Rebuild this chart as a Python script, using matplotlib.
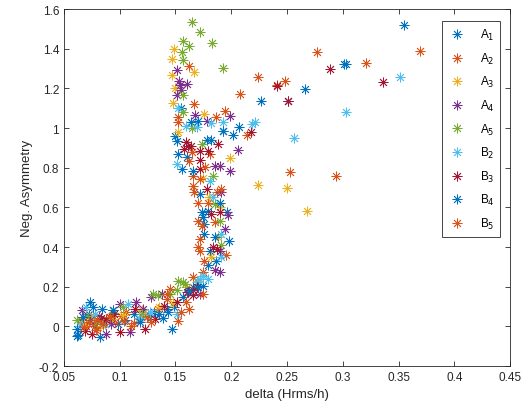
import numpy as np
from matplotlib import pyplot as plt

plt.rcParams['font.family'] = ['Liberation Sans', 'DejaVu Sans']

names = ['A$_1$', 'A$_2$', 'A$_3$', 'A$_4$', 'A$_5$', 'B$_2$', 'B$_3$', 'B$_4$', 'B$_5$']
colors = ['#0072BD', '#D95319', '#EDB120', '#7E2F8E', '#77AC30',
          '#4DBEEE', '#A2142F', '#0072BD', '#D95319']

## A1
A1_x = [0.062, 0.066, 0.072, 0.078, 0.084, 0.082, 0.090, 0.094, 0.105, 0.113, 0.125, 0.139,
        0.142, 0.147, 0.149, 0.157, 0.166, 0.175, 0.179, 0.181, 0.176, 0.176, 0.1735, 0.179,
        0.196, 0.172, 0.156, 0.152, 0.160, 0.150, 0.178, 0.164, 0.155, 0.355, 0.301, 0.266,
        0.198, 0.186, 0.098, 0.131]
A1_y = [-0.05, 0.02, 0.06, 0.00, 0.09, -0.055, 0.03, 0.08, 0.03, 0.06, 0.05, 0.04,
        0.09, -0.012, 0.097, 0.15, 0.20, 0.206, 0.307, 0.382, 0.466, 0.517, 0.576, 0.584,
        0.576, 0.668, 0.794, 0.869, 0.853, 0.962, 0.94, 1.029, 1.10, 1.52, 1.323, 1.197,
        0.43, 0.33, 0.01, 0.07]

## A2
A2_x = [0.065, 0.070, 0.074, 0.077, 0.080, 0.086, 0.090, 0.096, 0.106, 0.118, 0.124, 0.142,
        0.152, 0.145, 0.159, 0.166, 0.175, 0.170, 0.176, 0.172, 0.170, 0.185, 0.187, 0.166,
        0.166, 0.1625, 0.181, 0.152, 0.186, 0.167, 0.162, 0.277, 0.224, 0.248, 0.241, 0.214, 0.253,
        0.195, 0.179, 0.101, 0.134, 0.113]
A2_y = [0.03, 0.00, 0.04, 0.01, -0.01, 0.02, 0.047, 0.022, 0.072, 0.038, 0.047, 0.139,
        0.025, 0.189, 0.122, 0.248, 0.273, 0.40, 0.332, 0.441, 0.533, 0.525, 0.677, 0.71,
        0.76, 0.836, 0.869, 1.054, 1.055, 1.121, 1.311, 1.385, 1.259, 1.239, 1.215, 0.965, 0.78,
        0.36, 0.62, 0.05, 0.09, 0.015]

## A3
A3_x = [0.068, 0.076, 0.085, 0.103, 0.120, 0.135, 0.148, 0.160, 0.170, 0.182, 0.188, 0.190,
        0.180, 0.175, 0.199, 0.152, 0.176, 0.1475, 0.1466, 0.167, 0.147, 0.149, 0.150,
        0.224, 0.250, 0.268, 0.093]
A3_y = [0.01, 0.05, 0.00, 0.055, 0.08, 0.10, 0.12, 0.20, 0.23, 0.35, 0.45, 0.60,
        0.65, 0.75, 0.85, 0.979, 1.071, 1.126, 1.267, 1.284, 1.348, 1.40, 1.20,
        0.713, 0.697, 0.584, 0.035]

## A4
A4_x = [0.066, 0.073, 0.088, 0.092, 0.100, 0.109, 0.115, 0.128, 0.138, 0.160, 0.190, 0.172,
        0.185, 0.190, 0.194, 0.191, 0.185, 0.190, 0.199, 0.206, 0.178, 0.1675, 0.199,
        0.151, 0.153, 0.154, 0.160, 0.151, 0.155, 0.251, 0.197, 0.081, 0.121]
A4_y = [0.08, 0.03, -0.037, 0.01, 0.114, -0.029, 0.122, 0.147, 0.164, 0.172, 0.273, 0.164,
        0.282, 0.382, 0.492, 0.677, 0.807, 0.81, 0.785, 0.892, 1.037, 1.066, 1.06,
        1.293, 1.239, 1.217, 1.222, 1.167, 1.19, 1.138, 0.56, 0.05, 0.09]

## A5
A5_x = [0.062, 0.070, 0.080, 0.103, 0.120, 0.130, 0.1345, 0.145, 0.151, 0.157, 0.152, 0.1585,
        0.191, 0.190, 0.185, 0.184, 0.1735, 0.157, 0.165, 0.157, 0.156, 0.157, 0.157, 0.162,
        0.1645, 0.172, 0.183, 0.193, 0.094]
A5_y = [0.03, 0.05, 0.02, 0.097, 0.06, 0.164, 0.156, 0.164, 0.181, 0.223, 0.231, 0.214,
        0.408, 0.533, 0.618, 0.76, 0.92, 1.08, 1.00, 1.167, 1.382, 1.345, 1.44, 1.415,
        1.536, 1.483, 1.427, 1.303, 0.065]

## B2
B2_x = [0.064, 0.070, 0.078, 0.1077, 0.127, 0.151, 0.169, 0.172, 0.175, 0.179, 0.191, 0.191,
        0.184, 0.181, 0.151, 0.159, 0.169, 0.182, 0.193, 0.152, 0.351, 0.303, 0.256, 0.219, 0.221,
        0.087, 0.117]
B2_y = [0.00, 0.097, 0.06, 0.114, 0.072, 0.064, 0.223, 0.24, 0.256, 0.24, 0.349, 0.466,
        0.651, 0.735, 0.819, 1.012, 1.004, 1.024, 1.029, 1.10, 1.259, 1.079, 0.948, 1.02, 1.03,
        0.01, 0.04]

## B3
B3_x = [0.0688, 0.0748, 0.083, 0.088, 0.100, 0.1137, 0.1226, 0.1316, 0.151, 0.1615, 0.166, 0.169,
        0.166, 0.184, 0.187, 0.182, 0.190, 0.178, 0.172, 0.172, 0.179, 0.172, 0.188, 0.159,
        0.161, 0.158, 0.164, 0.289, 0.336, 0.241, 0.251, 0.218, 0.095, 0.140]
B3_y = [-0.021, -0.037, 0.04, 0.03, -0.029, 0.089, -0.012, 0.038, 0.122, 0.172, 0.156, 0.198,
        0.181, 0.40, 0.391, 0.567, 0.576, 0.693, 0.84, 0.794, 0.886, 0.886, 0.92, 0.93,
        0.91, 0.895, 0.91, 1.30, 1.234, 1.21, 1.135, 0.979, 0.06, 0.105]

## B4
B4_x = [0.0614, 0.0628, 0.073, 0.076, 0.0942, 0.118, 0.135, 0.143, 0.162, 0.170, 0.185, 0.175,
        0.190, 0.166, 0.1515, 0.182, 0.170, 0.193, 0.207, 0.193, 0.202, 0.303, 0.227, 0.067]
B4_y = [-0.012, -0.046, 0.122, 0.097, 0.08, 0.02, 0.06, 0.07, 0.18, 0.20, 0.45, 0.55,
        0.62, 0.785, 0.937, 0.94, 1.037, 0.987, 1.004, 0.984, 0.965, 1.323, 1.138, 0.045]

## B5
B5_x = [0.072, 0.080, 0.085, 0.079, 0.091, 0.110, 0.128, 0.155, 0.162, 0.175, 0.142, 0.172,
        0.1735, 0.167, 0.191, 0.170, 0.172, 0.1765, 0.194, 0.208, 0.152, 0.165,
        0.369, 0.321, 0.294, 0.068, 0.104]
B5_y = [0.02, 0.03, 0.01, -0.02, 0.047, 0.00, 0.02, 0.07, 0.089, 0.164, 0.164, 0.382,
        0.508, 0.677, 0.693, 0.62, 0.744, 0.802, 1.088, 1.172, 1.03, 0.88,
        1.39, 1.328, 0.76, -0.005, 0.025]

xs = [A1_x, A2_x, A3_x, A4_x, A5_x, B2_x, B3_x, B4_x, B5_x]
ys = [A1_y, A2_y, A3_y, A4_y, A5_y, B2_y, B3_y, B4_y, B5_y]

fig = plt.figure(figsize=(5.31, 4.14), dpi=100)
ax = fig.add_axes([0.1205, 0.1135, 0.84, 0.862])

for x, y, c, n in zip(xs, ys, colors, names):
    ax.plot(x, y, linestyle='none', marker=(8, 2, 0), markersize=7,
            markeredgewidth=0.6, color=c, label=n)

ax.set_xlim(0.05, 0.45)
ax.set_ylim(-0.2, 1.6)
ax.set_xticks(np.arange(0.05, 0.451, 0.05))
ax.set_xticklabels(['0.05', '0.1', '0.15', '0.2', '0.25', '0.3', '0.35', '0.4', '0.45'])
ax.set_yticks(np.arange(-0.2, 1.61, 0.2))
ax.set_yticklabels(['-0.2', '0', '0.2', '0.4', '0.6', '0.8', '1', '1.2', '1.4', '1.6'])
ax.tick_params(direction='in', top=True, right=True, labelsize=8.5,
               colors='#262626', length=3.5, width=0.6)
for s in ax.spines.values():
    s.set_linewidth(0.6)
    s.set_color('#262626')
ax.set_xlabel('delta (Hrms/h)', fontsize=9.5, color='#262626')
ax.set_ylabel('Neg. Asymmetry', fontsize=9.5, color='#262626')

leg = ax.legend(loc='upper right', bbox_to_anchor=(0.978, 0.966), borderaxespad=0,
                fontsize=8.5, fancybox=False, framealpha=1, edgecolor='#262626',
                labelspacing=0.72, handlelength=1.5, handletextpad=1.2,
                borderpad=0.5)
leg.get_frame().set_linewidth(0.6)

plt.savefig('out.png', dpi=100)
plt.close()
